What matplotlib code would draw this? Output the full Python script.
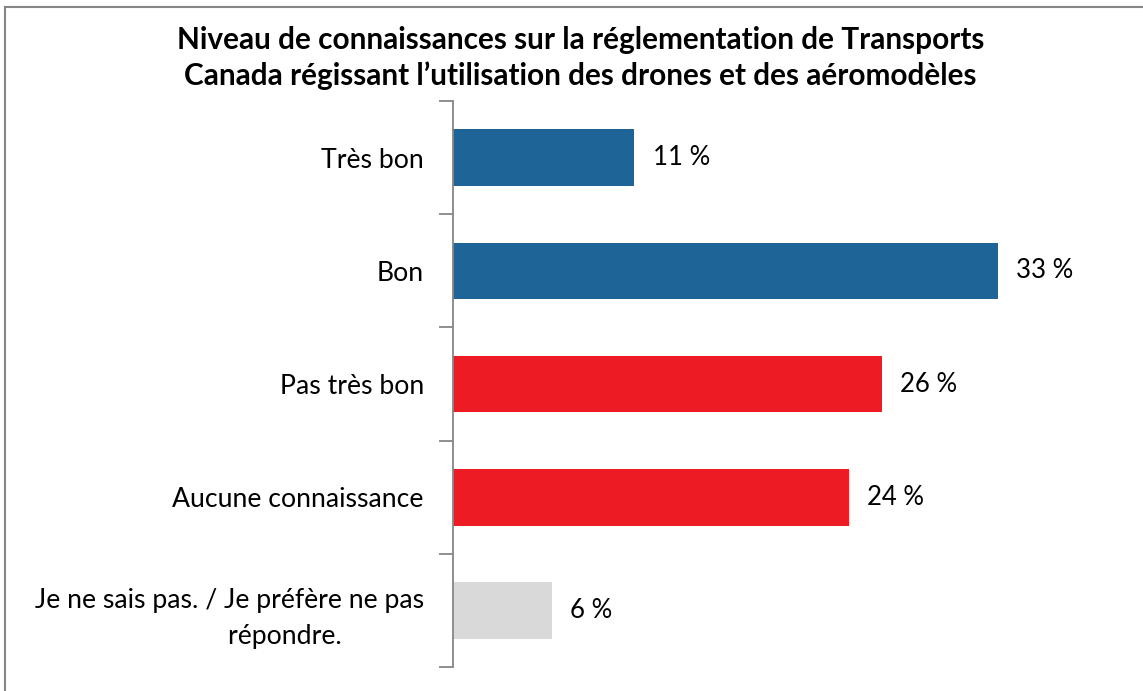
import matplotlib.pyplot as plt
from matplotlib.lines import Line2D

categories = [
    "Très bon",
    "Bon",
    "Pas très bon",
    "Aucune connaissance",
    "Je ne sais pas. / Je préfère ne pas\nrépondre.            ",
]
values = [11, 33, 26, 24, 6]
colors = ["#1F6496", "#1F6496", "#ED1C24", "#ED1C24", "#D9D9D9"]
value_labels = ["11 %", "33 %", "26 %", "24 %", "6 %"]
title = ("Niveau de connaissances sur la réglementation de Transports\n"
         "Canada régissant l’utilisation des drones et des aéromodèles")

plt.rcParams["font.family"] = ["Lato", "DejaVu Sans"]

fig = plt.figure(figsize=(11.43, 6.91), dpi=100)
ax = fig.add_axes([0.3963, 0.0347, 0.5775, 0.8191])

y = list(range(len(categories)))
ax.barh(y, values, height=0.5, color=colors)
ax.set_ylim(len(categories) - 0.5, -0.5)
ax.set_xlim(0, 40)

for yi, v, lab in zip(y, values, value_labels):
    ax.text(v + 1.1, yi, lab, va="center", ha="left", fontsize=18.5, color="#000000")

ax.set_yticks(y)
ax.set_yticklabels(categories, fontsize=19.2, linespacing=1.55)
ax.tick_params(axis="y", which="major", length=0, pad=21)
ax.set_yticks([i - 0.5 for i in range(len(categories) + 1)], minor=True)
ax.tick_params(axis="y", which="minor", length=10, color="#868686", width=1.3)
ax.set_xticks([])

for s in ["top", "right", "bottom"]:
    ax.spines[s].set_visible(False)
ax.spines["left"].set_color("#868686")
ax.spines["left"].set_linewidth(1.3)

fig.text(0.508, 0.916, title, ha="center", va="center", fontsize=21.4,
         fontweight="bold", linespacing=1.33)

# outer frame (top and left only visible)
fig.add_artist(Line2D([5 / 1143, 5 / 1143], [0, 1 - 7 / 691], color="#868686", lw=1.5))
fig.add_artist(Line2D([5 / 1143, 1], [1 - 7 / 691, 1 - 7 / 691], color="#868686", lw=1.5))

fig.savefig("out.png", dpi=100)
